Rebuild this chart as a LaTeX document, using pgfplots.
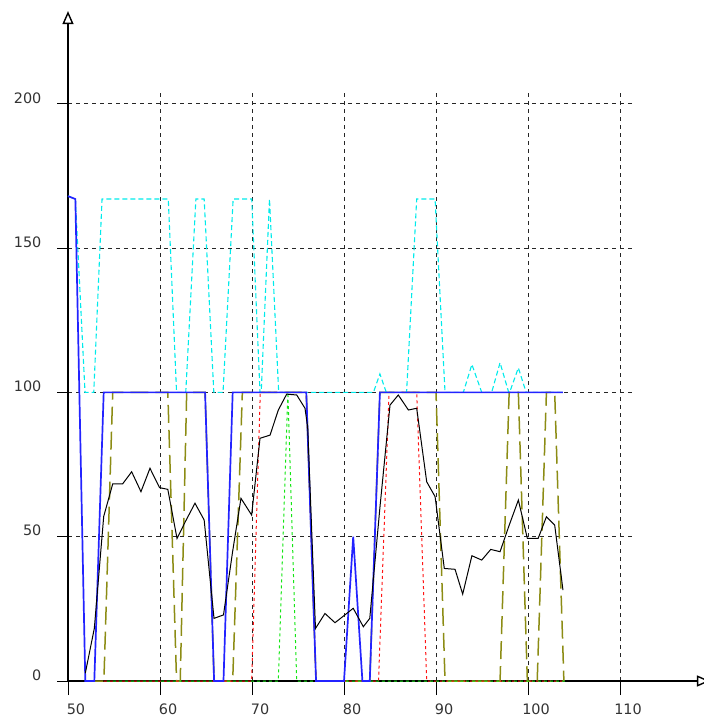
\documentclass[border=0pt]{standalone}
\usepackage{fontspec}
\setmainfont{DejaVu Sans}
\usepackage{pgfplots}
\pgfplotsset{compat=1.18}
\usetikzlibrary{arrows.meta}
\definecolor{cblue}{RGB}{35,35,255}
\definecolor{ccyan}{RGB}{0,235,235}
\definecolor{colive}{RGB}{140,140,20}
\definecolor{cred}{RGB}{255,20,20}
\definecolor{cgreen}{RGB}{20,230,20}
\begin{document}
\begin{tikzpicture}
\begin{axis}[
  at={(0,0)}, anchor=south west,
  x=4.6pt, y=1.443pt,
  xmin=50, xmax=111.3, ymin=0, ymax=203.7,
  enlargelimits=false,
  axis lines=left,
  axis line style={line width=0.7pt, -{Triangle[open,length=6.5pt,width=5.5pt]}},
  x axis line style={shorten >=-39pt},
  y axis line style={shorten >=-41pt},
  xtick={50,60,...,110}, ytick={0,50,...,200},
  grid=major,
  major grid style={black!85, line width=0.5pt, dash pattern=on 2pt off 2pt},
  tick align=outside,
  xtick style={black, line width=0.5pt, /pgfplots/major tick length=7pt},
  ytick style={black, line width=0.5pt, /pgfplots/major tick length=5.5pt},
  ticklabel style={font=\fontsize{7.2}{8}\selectfont, text=black!80},
  /pgf/number format/assume math mode=true,
  xticklabel style={xshift=4pt, yshift=-3.5pt},
  yticklabel style={yshift=3pt, xshift=-5.5pt},
  clip=false,
]
% olive long dashed
\addplot[colive, line width=0.75pt, dash pattern=on 9pt off 3.5pt] coordinates {
(51.88,0) (53.9,0) (54.86,100) (60.85,100) (61.8,0) (62.2,0) (62.9,100) (64.9,100) (65.88,0) (67.9,0) (68.95,100) (75.9,100) (76.96,0) (82.8,0) (83.9,100) (90.0,100) (90.98,0) (96.96,0) (97.95,100) (98.95,100) (99.93,0) (101.0,0) (102.0,100) (102.9,100) (103.9,0)
};
% red dotted
\addplot[cred, line width=0.5pt, dash pattern=on 1.5pt off 1.5pt] coordinates {
(53.9,0) (69.96,0) (70.9,100) (75.9,100) (76.96,0) (83.75,0) (84.9,100) (87.9,100) (88.99,0) (104,0)
};
% green dotted
\addplot[cgreen, line width=0.5pt, dash pattern=on 1.5pt off 1.5pt, dash phase=1.5pt] coordinates {
(53.9,0) (72.86,0) (73.9,100) (74.86,0) (104,0)
};
% cyan dashed
\addplot[ccyan, line width=0.55pt, dash pattern=on 2.5pt off 1.5pt] coordinates {
(50,168) (50.8,167) (51.85,100) (52.8,100) (53.7,167) (60.9,167) (61.8,100) (62.8,100) (63.9,167) (64.8,167) (65.85,100) (66.85,100) (67.95,167) (69.97,167) (70.87,100) (71.0,100) (71.9,167) (72.9,100) (83.2,100) (83.9,106.4) (84.6,100) (86.8,100) (87.9,167) (89.9,167) (90.98,100) (92.97,100) (93.9,109.7) (94.97,100) (96.05,100) (96.96,110.3) (97.9,100) (98.0,100) (98.95,108.5) (99.8,100) (104,100)
};
% blue solid
\addplot[cblue, line width=0.85pt] coordinates {
(50,168) (50.8,167) (51.88,0) (52.86,0) (53.88,100) (64.9,100) (65.88,0) (66.9,0) (67.9,100) (75.9,100) (76.96,0) (80.0,0) (81.0,50) (82.0,0) (82.8,0) (83.9,100) (103.8,100)
};
% black solid
\addplot[black, line width=0.5pt] coordinates {
(51.88,2.7) (52.86,18.2) (53.88,57) (54.86,68.3) (55.94,68.3) (56.92,72.5) (57.93,65.6) (58.91,73.7) (59.95,67) (60.85,66.4) (61.85,49.4) (62.8,55.5) (63.8,61.6) (64.8,55.8) (65.87,21.7) (66.9,22.9) (67.9,45) (68.8,63.3) (69.96,57.5) (70.87,84.1) (71.96,85.2) (72.86,93.9) (73.77,99.4) (74.86,99.1) (75.76,94.5) (76.05,88) (76.9,18.2) (77.93,23.4) (79.02,20.2) (80.1,22.9) (81.0,25.2) (82.1,18.8) (82.8,21.7) (83.9,60) (85.0,95.6) (85.9,99.1) (87.0,93.9) (87.9,94.5) (88.99,69) (89.9,63.9) (90.9,39) (92.07,38.7) (92.9,30.1) (93.9,43.4) (94.97,41.9) (95.95,45.6) (96.96,44.8) (97.9,53.5) (98.95,62.7) (99.93,49.4) (101.1,49.4) (102.0,56.9) (102.9,54) (103.8,31.5)
};
\end{axis}
\pgfresetboundingbox
\path (-34pt,-17pt) rectangle (318pt,340.5pt);
\end{tikzpicture}
\end{document}
